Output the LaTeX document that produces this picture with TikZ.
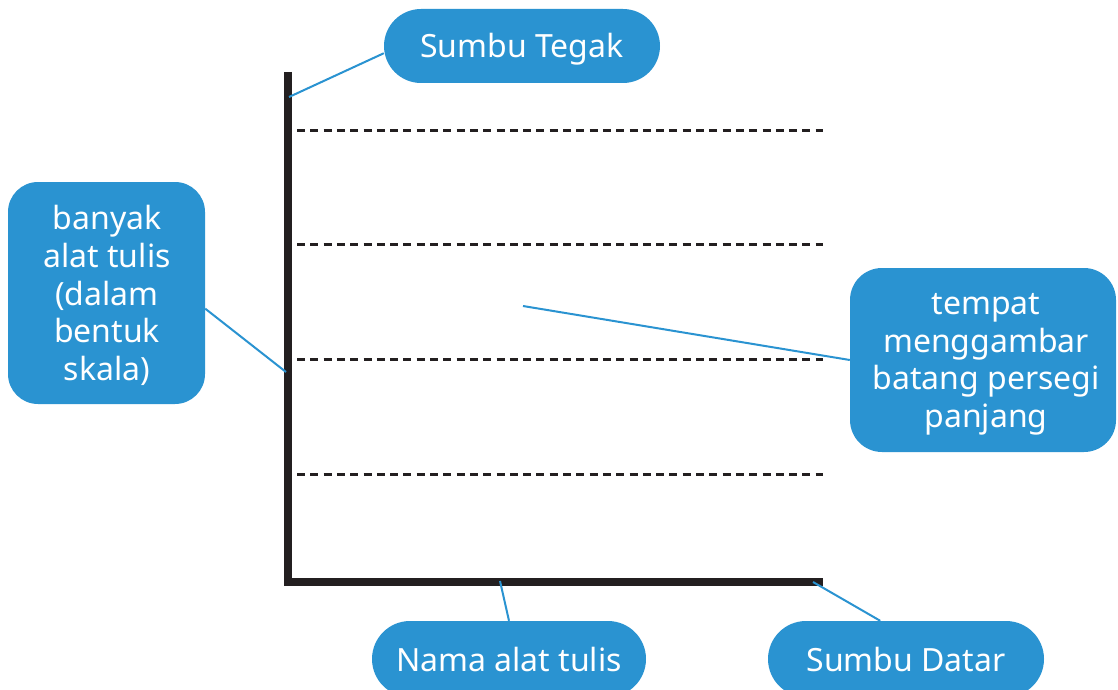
\documentclass[tikz,border=0pt]{standalone}
\usepackage{fontspec}
\setmainfont{Noto Sans}
\definecolor{callblue}{HTML}{2A93D1}
\definecolor{axisblack}{HTML}{231F20}
\begin{document}
\begin{tikzpicture}[x=1pt,y=-1pt,
  calltext/.style={text=white,font=\fontsize{32}{37.7}\selectfont,inner sep=0pt},
  callout/.style={fill=callblue,inner sep=0pt},
  pill/.style={callout,calltext,rounded corners=37pt,minimum height=74pt,minimum width=276pt,text height=24pt,text depth=0pt},
  axisline/.style={draw=axisblack,line width=8pt,miter limit=10},
  gridline/.style={draw=axisblack,line width=3pt,dash pattern=on 8pt off 5.3pt},
  link/.style={draw=callblue,line width=2pt}]
\useasboundingbox (0,0) rectangle (1118,690);
\clip (0,0) rectangle (1118,690);

% grid lines
\foreach \y in {130,244,359,474}{\draw[gridline] (297,\y) -- (823,\y);}

% axes
\coordinate (top) at (288,72);
\coordinate (origin) at (288,582);
\coordinate (right) at (823,582);
\draw[axisline] (top) -- (origin) -- (right);

% callouts
\node[pill] (tegak) at (522,46) {Sumbu Tegak};
\node[callout,rounded corners=30pt,minimum width=197pt,minimum height=222pt] (banyak) at (106.5,293) {};
\node[calltext] (banyakText) at (107,297.5) {\begin{tabular}{@{}c@{}}banyak\\alat tulis\\(dalam\\bentuk\\skala)\end{tabular}};
\node[callout,rounded corners=32pt,minimum width=266pt,minimum height=184pt] (tempat) at (983,360) {};
\node[calltext] (tempatText) at (986,363.5) {\begin{tabular}{@{}c@{}}tempat\\menggambar\\batang persegi\\panjang\end{tabular}};
\node[pill,minimum width=274pt,minimum height=76pt,rounded corners=38pt] (nama) at (509,659) {Nama alat tulis};
\node[pill,minimum height=76pt,rounded corners=38pt] (datar) at (906,659) {Sumbu Datar};

% free ends
\coordinate (pT) at (289,97);
\coordinate (pB) at (286,372);
\coordinate (pN) at (500,581);
\coordinate (pD) at (813,582);
\coordinate (pM) at (523,306);

% connectors
\draw[link] (pT) -- (tegak.183);
\draw[link] (pB) -- (banyak.351);
\draw[link] (pM) -- (tempat.west);
\draw[link] (pN) -- (nama.north);
\draw[link] (pD) -- (datar.124);
\end{tikzpicture}
\end{document}
